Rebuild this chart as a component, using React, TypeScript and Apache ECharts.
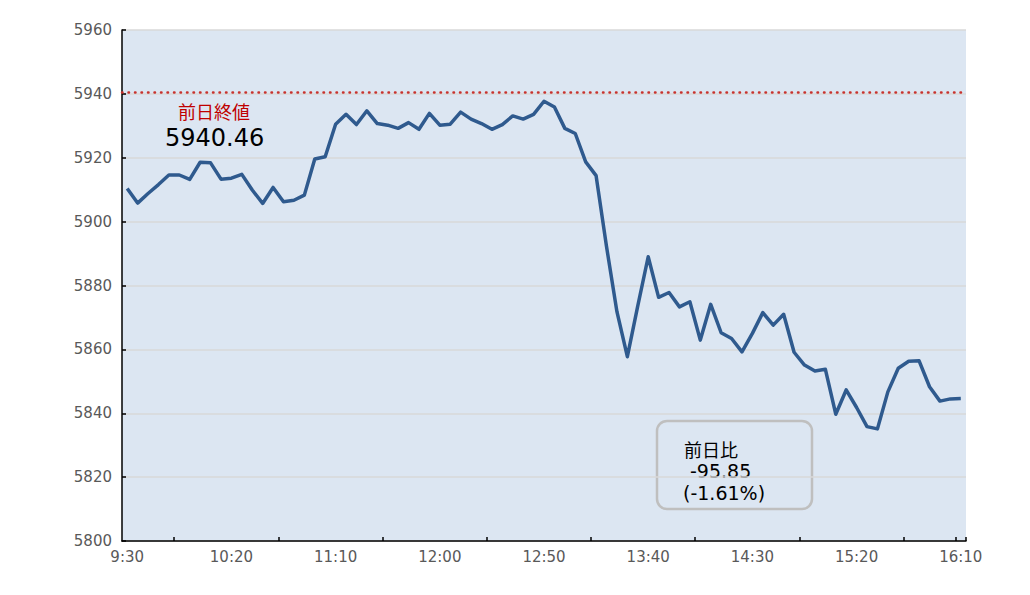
import React, { useEffect, useRef } from "react";
import * as echarts from "echarts";

const times: string[] = [
  "9:30","9:35","9:40","9:45","9:50","9:55","10:00","10:05","10:10","10:15",
  "10:20","10:25","10:30","10:35","10:40","10:45","10:50","10:55","11:00","11:05",
  "11:10","11:15","11:20","11:25","11:30","11:35","11:40","11:45","11:50","11:55",
  "12:00","12:05","12:10","12:15","12:20","12:25","12:30","12:35","12:40","12:45",
  "12:50","12:55","13:00","13:05","13:10","13:15","13:20","13:25","13:30","13:35",
  "13:40","13:45","13:50","13:55","14:00","14:05","14:10","14:15","14:20","14:25",
  "14:30","14:35","14:40","14:45","14:50","14:55","15:00","15:05","15:10","15:15",
  "15:20","15:25","15:30","15:35","15:40","15:45","15:50","15:55","16:00","16:05",
  "16:10",
];

const prices: number[] = [
  5910.4, 5905.8, 5908.8, 5911.6, 5914.6, 5914.6, 5913.2, 5918.6, 5918.4, 5913.3,
  5913.6, 5914.8, 5909.9, 5905.7, 5910.7, 5906.2, 5906.7, 5908.3, 5919.6, 5920.3,
  5930.5, 5933.6, 5930.4, 5934.7, 5930.7, 5930.2, 5929.2, 5931.0, 5928.9, 5933.9,
  5930.2, 5930.5, 5934.3, 5932.1, 5930.7, 5928.9, 5930.4, 5933.1, 5932.1, 5933.6,
  5937.7, 5935.9, 5929.2, 5927.6, 5918.7, 5914.4, 5892.2, 5871.8, 5857.7, 5873.6,
  5889.0, 5876.3, 5877.8, 5873.3, 5874.9, 5862.9, 5874.1, 5865.2, 5863.4, 5859.2,
  5865.0, 5871.5, 5867.6, 5871.0, 5859.1, 5855.1, 5853.2, 5853.8, 5839.7, 5847.3,
  5841.8, 5835.8, 5835.1, 5846.7, 5854.1, 5856.3, 5856.4, 5848.3, 5843.8, 5844.5,
  5844.61,
];

const prevClose = 5940.46;
const prevCloseLabel = "前日終値";
const changeLabel = "前日比";
const changeValue = "-95.85";
const changePct = "(-1.61%)";

const yMin = 5800;
const yMax = 5960;
const yStep = 20;

const NUM_FONT = "'DejaVu Sans', 'Noto Sans CJK JP', sans-serif";
const JP_FONT = "'Noto Sans CJK JP', 'DejaVu Sans', sans-serif";

export default function App() {
  const ref = useRef<HTMLDivElement>(null);

  useEffect(() => {
    if (!ref.current) return;
    const chart = echarts.init(ref.current, undefined, { renderer: "svg" });
    chart.setOption({
      animation: false,
      backgroundColor: "#ffffff",
      grid: {
        left: 122,
        right: 64,
        top: 30,
        bottom: 54,
        show: true,
        backgroundColor: "#dce6f2",
        borderWidth: 0,
      },
      xAxis: {
        type: "category",
        data: times,
        boundaryGap: true,
        axisLine: { show: true, lineStyle: { color: "#000000", width: 1.5 } },
        axisTick: {
          show: true,
          inside: true,
          length: 4,
          interval: (i: number) => i % 10 === 5 || i === 80,
          lineStyle: { color: "#000000", width: 1.5 },
        },
        axisLabel: {
          interval: (i: number) => i % 10 === 0,
          color: "#595959",
          fontSize: 15,
          fontFamily: NUM_FONT,
          margin: 8,
        },
        splitLine: { show: false },
      },
      yAxis: {
        type: "value",
        min: yMin,
        max: yMax,
        interval: yStep,
        axisLine: { show: true, lineStyle: { color: "#000000", width: 1.5 } },
        axisTick: {
          show: true,
          inside: true,
          length: 4,
          lineStyle: { color: "#000000", width: 1.5 },
        },
        axisLabel: {
          color: "#595959",
          fontSize: 15,
          fontFamily: NUM_FONT,
          margin: 10,
          formatter: (v: number) => String(v),
        },
        splitLine: { show: true, lineStyle: { color: "#d9d9d9", width: 1.5 } },
      },
      series: [
        {
          type: "line",
          data: prices,
          symbol: "none",
          lineStyle: { color: "#2f5a8e", width: 3.5, join: "round" },
          markLine: {
            silent: true,
            symbol: ["none", "none"],
            label: { show: false },
            lineStyle: { color: "#c8322d", width: 2.5, type: [0.5, 6], cap: "round" },
            data: [{ yAxis: prevClose }],
          },
          z: 3,
        },
      ],
      graphic: [
        {
          type: "text",
          left: 178,
          top: 102,
          style: { text: prevCloseLabel, fill: "#c00000", font: `18px ${JP_FONT}`, lineHeight: 18 },
        },
        {
          type: "text",
          left: 165,
          top: 126,
          style: { text: prevClose.toFixed(2), fill: "#000000", font: `24px ${NUM_FONT}`, lineHeight: 24 },
        },
        {
          type: "rect",
          shape: { x: 657, y: 421, width: 155, height: 88, r: 10 },
          style: { fill: "none", stroke: "#bfbfbf", lineWidth: 2.5 },
        },
        {
          type: "text",
          left: 684,
          top: 440,
          style: { text: changeLabel, fill: "#000000", font: `18px ${JP_FONT}`, lineHeight: 18 },
        },
        {
          type: "text",
          left: 690,
          top: 461,
          style: { text: changeValue, fill: "#000000", font: `19px ${NUM_FONT}`, lineHeight: 19 },
        },
        {
          type: "text",
          left: 683,
          top: 483,
          style: { text: changePct, fill: "#000000", font: `19px ${NUM_FONT}`, lineHeight: 19 },
        },
      ],
    });
    return () => chart.dispose();
  }, []);

  return (
    <div
      ref={ref}
      style={{ position: "absolute", left: 0, top: 0, width: 1030, height: 595 }}
    />
  );
}
